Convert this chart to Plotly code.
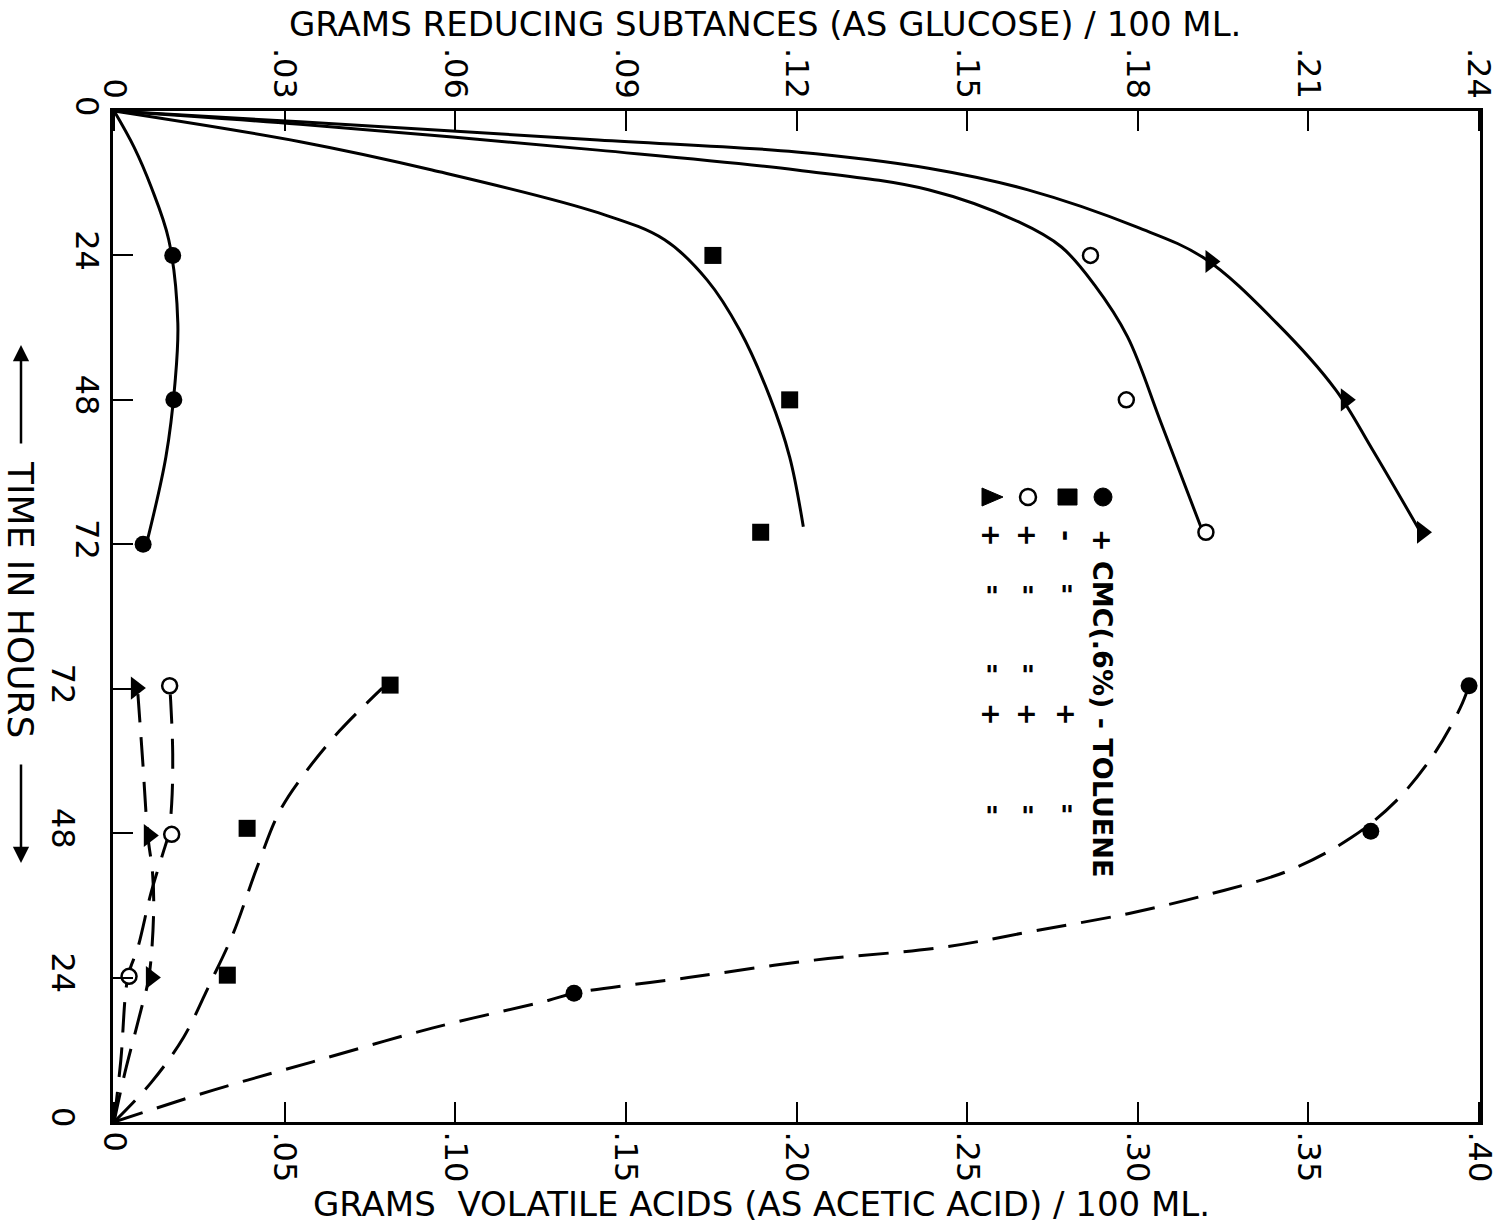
import plotly.graph_objects as go

W, H = 1498, 1223
ML, MR, MT, MB = 113, 18, 111, 101

# ---------------- tick definitions ----------------
glucose_tickvals = [0, 0.03, 0.06, 0.09, 0.12, 0.15, 0.18, 0.21, 0.24]
glucose_ticktext = ["0", ".03", ".06", ".09", ".12", ".15", ".18", ".21", ".24"]
acid_tickvals = [0, 0.05, 0.10, 0.15, 0.20, 0.25, 0.30, 0.35, 0.40]
acid_ticktext = ["0", ".05", ".10", ".15", ".20", ".25", ".30", ".35", ".40"]
hour_tickvals = [0, 24, 48, 72]
hour_ticktext = ["0", "24", "48", "72"]

# ---------------- reducing substances (g glucose / 100 ml), upper half ----------------
# measured points
glu_cmc_notol_t = [24, 48, 72]
glu_cmc_notol = [0.0103, 0.0105, 0.0051]
glu_nocmc_tol_t = [24, 48, 70]
glu_nocmc_tol = [0.1053, 0.1188, 0.1137]
glu_cmc_tol_t = [24, 48, 70]
glu_cmc_tol = [0.1717, 0.1780, 0.1920]
glu_cmc_tol2_t = [25, 48, 70]
glu_cmc_tol2 = [0.1928, 0.2166, 0.2300]

# hand-drawn fitted curves
glu_curve_cmc_notol_t = [0, 6.0, 12.6, 21.4, 35.2, 45.2, 57.5, 71.5]
glu_curve_cmc_notol = [0, 0.0035, 0.0065, 0.0096, 0.0112, 0.0107, 0.0091, 0.0058]
glu_curve_nocmc_tol_t = [0, 5.1, 9.8, 16.9, 21.4, 28.1, 36.4, 47.5, 57.5, 69.1]
glu_curve_nocmc_tol = [0, 0.0327, 0.0559, 0.0851, 0.0968, 0.1043, 0.1100, 0.1153, 0.1188, 0.1212]
glu_curve_cmc_tol_t = [0, 2.2, 6.5, 9.8, 13.1, 18.4, 22.6, 28.9, 37.5, 51.8, 69.1]
glu_curve_cmc_tol = [0, 0.0327, 0.0851, 0.1200, 0.1432, 0.1590, 0.1666, 0.1724, 0.1782, 0.1841, 0.1911]
glu_curve_cmc_tol2_t = [0, 1.8, 4.8, 6.8, 9.5, 13.1, 19.3, 24.4, 35.2, 46.3, 56.3, 70.4]
glu_curve_cmc_tol2 = [0, 0.0327, 0.0851, 0.1200, 0.1432, 0.1607, 0.1799, 0.1916, 0.2044, 0.2148, 0.2213, 0.2300]

# ---------------- volatile acids (g acetic acid / 100 ml), lower half ----------------
acid_cmc_notol_t = [21.4, 48.3, 72.5]
acid_cmc_notol = [0.1348, 0.3683, 0.3971]
acid_nocmc_tol_t = [24.4, 48.8, 72.6]
acid_nocmc_tol = [0.0332, 0.0390, 0.0809]
acid_cmc_tol_t = [24.2, 47.8, 72.5]
acid_cmc_tol = [0.0044, 0.0169, 0.0163]
acid_cmc_tol2_t = [24.0, 47.6, 72.1]
acid_cmc_tol2 = [0.0108, 0.0102, 0.0064]

acid_curve_cmc_notol_t = [0, 5.3, 10.0, 15.6, 20.2, 21.4, 24.0, 26.9, 29.0, 31.8, 34.7, 38.0, 41.8, 47.3, 53.4, 61.2, 68.8, 72.5]
acid_curve_cmc_notol = [0, 0.0291, 0.0582, 0.0932, 0.1272, 0.1348, 0.1683, 0.2052, 0.2425, 0.2702, 0.2978, 0.3220, 0.3444, 0.3627, 0.3758, 0.3869, 0.3945, 0.3971]
acid_curve_nocmc_tol_t = [0, 6.5, 14.1, 23.1, 31.3, 42.3, 51.7, 58.4, 65.0, 72.1]
acid_curve_nocmc_tol = [0, 0.0108, 0.0204, 0.0282, 0.0349, 0.0419, 0.0486, 0.0565, 0.0661, 0.0786]
acid_curve_cmc_tol_t = [0, 10.3, 24.2, 29.0, 38.0, 44.6, 47.9, 52.9, 61.2, 70.0, 72.5]
acid_curve_cmc_tol = [0, 0.0020, 0.0041, 0.0070, 0.0108, 0.0143, 0.0160, 0.0169, 0.0172, 0.0166, 0.0163]
acid_curve_cmc_tol2_t = [0, 7.5, 18.6, 24.0, 34.7, 41.3, 47.6, 60.0, 71.1]
acid_curve_cmc_tol2 = [0, 0.0029, 0.0079, 0.0102, 0.0116, 0.0113, 0.0099, 0.0084, 0.0070]

TOP_TITLE = "GRAMS REDUCING SUBTANCES (AS GLUCOSE) / 100 ML."
BOTTOM_TITLE = "GRAMS  VOLATILE ACIDS (AS ACETIC ACID) / 100 ML."
TIME_TITLE = "TIME IN HOURS"
LEGEND_HEAD = "+ CMC(.6%) - TOLUENE"

FONT = "DejaVu Sans"
BLACK = "black"

fig = go.Figure()


def add(x, y, xa, ya, **kw):
    fig.add_trace(go.Scatter(x=x, y=y, xaxis=xa, yaxis=ya, showlegend=False,
                             hoverinfo="skip", cliponaxis=False, **kw))


solid = dict(color=BLACK, width=3, shape="spline", smoothing=1.0)
dashed = dict(color=BLACK, width=3, shape="spline", smoothing=1.0, dash="30px,15px")

# upper curves
add(glu_curve_cmc_notol, glu_curve_cmc_notol_t, "x", "y", mode="lines", line=solid)
add(glu_curve_nocmc_tol, glu_curve_nocmc_tol_t, "x", "y", mode="lines", line=solid)
add(glu_curve_cmc_tol, glu_curve_cmc_tol_t, "x", "y", mode="lines", line=solid)
add(glu_curve_cmc_tol2, glu_curve_cmc_tol2_t, "x", "y", mode="lines", line=solid)
# lower curves
add(acid_curve_cmc_notol, acid_curve_cmc_notol_t, "x2", "y2", mode="lines", line=dashed)
add(acid_curve_nocmc_tol, acid_curve_nocmc_tol_t, "x2", "y2", mode="lines", line=dashed)
add(acid_curve_cmc_tol, acid_curve_cmc_tol_t, "x2", "y2", mode="lines", line=dashed)
add(acid_curve_cmc_tol2, acid_curve_cmc_tol2_t, "x2", "y2", mode="lines", line=dashed)

m_fcirc = dict(symbol="circle", size=17, color=BLACK)
m_square = dict(symbol="square", size=17, color=BLACK)
m_ocirc = dict(symbol="circle", size=15, color="white", line=dict(color=BLACK, width=2.5))
m_tri = dict(symbol="triangle-right", size=20, color=BLACK)

for xa, ya, series in [
    ("x", "y", [(glu_cmc_notol, glu_cmc_notol_t, m_fcirc), (glu_nocmc_tol, glu_nocmc_tol_t, m_square),
                (glu_cmc_tol, glu_cmc_tol_t, m_ocirc), (glu_cmc_tol2, glu_cmc_tol2_t, m_tri)]),
    ("x2", "y2", [(acid_cmc_notol, acid_cmc_notol_t, m_fcirc), (acid_nocmc_tol, acid_nocmc_tol_t, m_square),
                  (acid_cmc_tol, acid_cmc_tol_t, m_ocirc), (acid_cmc_tol2, acid_cmc_tol2_t, m_tri)]),
]:
    for vx, vy, mk in series:
        add(vx, vy, xa, ya, mode="markers", marker=mk)

# ---------------- layout helpers (pixel -> paper) ----------------
PW = W - ML - MR
PH = H - MT - MB


def fx(px):
    return (px - ML) / PW


def fy(py):
    return (H - MB - py) / PH


tickfont = dict(family=FONT, size=32, color=BLACK)
common = dict(showgrid=False, zeroline=False, showline=True, linewidth=3, linecolor=BLACK,
              ticks="inside", ticklen=20, tickwidth=2, tickcolor=BLACK, tickfont=tickfont,
              tickangle=90, tickmode="array", ticklabeloverflow="allow", automargin=False)

fig.update_layout(
    width=W, height=H, margin=dict(l=ML, r=MR, t=MT, b=MB, autoexpand=False),
    paper_bgcolor="white", plot_bgcolor="white",
    xaxis=dict(domain=[0, 1], range=[-0.0002, 0.2402], side="top", anchor="y",
               tickvals=glucose_tickvals, ticktext=glucose_ticktext, ticklabelstandoff=-2, **common),
    yaxis=dict(domain=[0.5, 1], range=[84, 0], anchor="x", mirror=True,
               tickvals=hour_tickvals, ticktext=hour_ticktext, ticklabelstandoff=-4, **common),
    xaxis2=dict(domain=[0, 1], range=[-0.0003, 0.4003], side="bottom", anchor="y2",
                tickvals=acid_tickvals, ticktext=acid_ticktext, ticklabelstandoff=0, **common),
    yaxis2=dict(domain=[0, 0.5], range=[0, 84], anchor="x2", mirror=True,
                tickvals=hour_tickvals, ticktext=hour_ticktext, ticklabelstandoff=20, **common),
)

ann = []
ann.append(dict(text=TOP_TITLE, x=fx(765), y=fy(24), xref="paper", yref="paper", showarrow=False,
                xanchor="center", yanchor="middle", font=dict(family=FONT, size=34, color=BLACK)))
ann.append(dict(text=BOTTOM_TITLE, x=fx(761), y=fy(1204), xref="paper", yref="paper", showarrow=False,
                xanchor="center", yanchor="middle", font=dict(family=FONT, size=34, color=BLACK)))
ann.append(dict(text=TIME_TITLE, x=fx(21), y=fy(599), xref="paper", yref="paper", showarrow=False,
                textangle=90, xanchor="center", yanchor="middle",
                font=dict(family=FONT, size=36, color=BLACK)))
# arrows beside TIME IN HOURS
ann.append(dict(text="", x=fx(21), y=fy(345), xref="paper", yref="paper", showarrow=True,
                ax=0, ay=100, arrowhead=2, arrowsize=1.3, arrowwidth=2.5, arrowcolor=BLACK))
ann.append(dict(text="", x=fx(21), y=fy(863), xref="paper", yref="paper", showarrow=True,
                ax=0, ay=-100, arrowhead=2, arrowsize=1.3, arrowwidth=2.5, arrowcolor=BLACK))

# legend text
lfont = dict(family=FONT, size=27, color=BLACK, weight="bold")
ann.append(dict(text=LEGEND_HEAD, x=fx(1103), y=fy(703), xref="paper", yref="paper",
                showarrow=False, textangle=90, xanchor="center", yanchor="middle", font=lfont))
legend_rows = [
    (1067, [(535, "-", 90), (589, '"', 0), (714, "+", 90), (809, '"', 0)]),
    (1028, [(535, "+", 90), (590, '"', 0), (670, '"', 0), (714, "+", 90), (810, '"', 0)]),
    (992, [(535, "+", 90), (590, '"', 0), (670, '"', 0), (714, "+", 90), (810, '"', 0)]),
]
for rx, toks in legend_rows:
    for py, t, ang in toks:
        ann.append(dict(text=t, x=fx(rx), y=fy(py + (6 if t == '"' else 0)), xref="paper", yref="paper",
                        showarrow=False, textangle=ang, xanchor="center", yanchor="middle", font=lfont))
fig.update_layout(annotations=ann)

# legend symbols as shapes
shapes = []
ly = 497
shapes.append(dict(type="circle", xref="paper", yref="paper", x0=fx(1094), x1=fx(1112),
                   y0=fy(ly + 9), y1=fy(ly - 9), fillcolor=BLACK, line=dict(color=BLACK, width=1)))
shapes.append(dict(type="rect", xref="paper", yref="paper", x0=fx(1058), x1=fx(1077),
                   y0=fy(ly + 8), y1=fy(ly - 8), fillcolor=BLACK, line=dict(color=BLACK, width=1)))
shapes.append(dict(type="circle", xref="paper", yref="paper", x0=fx(1020), x1=fx(1036),
                   y0=fy(ly + 8), y1=fy(ly - 8), fillcolor="white", line=dict(color=BLACK, width=2.5)))
tri = "M {} {} L {} {} L {} {} Z".format(fx(982), fy(ly - 9), fx(982), fy(ly + 9), fx(1003), fy(ly))
shapes.append(dict(type="path", xref="paper", yref="paper", path=tri, fillcolor=BLACK,
                   line=dict(color=BLACK, width=1)))
fig.update_layout(shapes=shapes)

fig.write_html("out.html")
